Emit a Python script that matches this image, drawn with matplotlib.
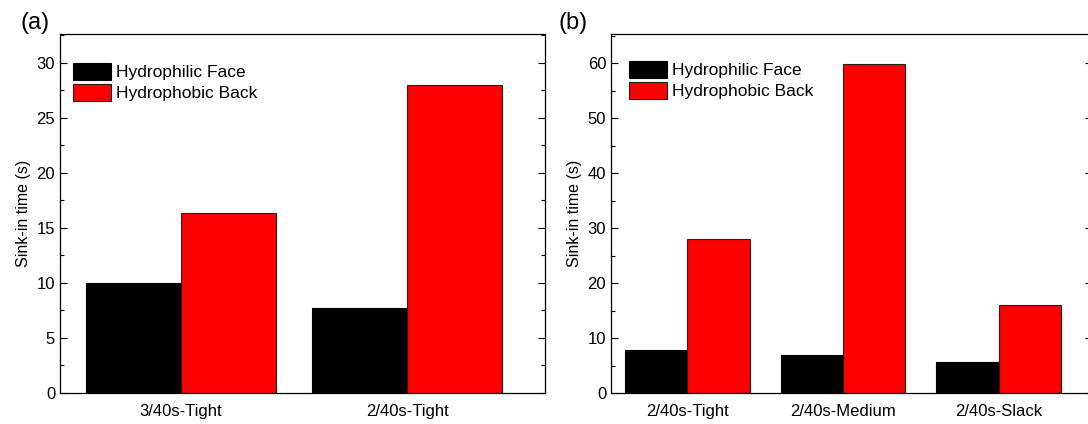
import matplotlib
matplotlib.use("Agg")
import matplotlib.pyplot as plt
from matplotlib.ticker import MultipleLocator
import numpy as np

plt.rcParams['font.family'] = ['Liberation Sans', 'DejaVu Sans']

# Panel (a)
cats_a = ["3/40s-Tight", "2/40s-Tight"]
face_a = [10.0, 7.7]
back_a = [16.3, 28.0]

# Panel (b)
cats_b = ["2/40s-Tight", "2/40s-Medium", "2/40s-Slack"]
face_b = [7.8, 7.0, 5.7]
back_b = [28.0, 59.8, 16.0]

series_labels = ["Hydrophilic Face", "Hydrophobic Back"]

W, H = 1088, 424
fig = plt.figure(figsize=(W / 100, H / 100), dpi=100)

def px_axes(l, r, t, b):
    return fig.add_axes([l / W, 1 - b / H, (r - l) / W, (b - t) / H])

def draw(ax, cats, face, back, width, xlim, ylim, major, minor, leg_anchor):
    x = np.arange(len(cats))
    ax.bar(x - width / 2, face, width, color="black", edgecolor="black",
           linewidth=0.8, label=series_labels[0])
    ax.bar(x + width / 2, back, width, color="#ff0000", edgecolor="#202020",
           linewidth=0.8, label=series_labels[1])
    ax.set_xlim(*xlim)
    ax.set_ylim(*ylim)
    ax.set_xticks(x)
    ax.set_xticklabels(cats, fontsize=12)
    ax.tick_params(axis='x', length=0, pad=8)
    ax.yaxis.set_major_locator(MultipleLocator(major))
    ax.yaxis.set_minor_locator(MultipleLocator(minor))
    ax.tick_params(axis='y', which='both', direction='in', right=True,
                   labelsize=12)
    ax.tick_params(axis='y', which='major', length=5, width=0.8)
    ax.tick_params(axis='y', which='minor', length=3, width=0.8)
    for s in ax.spines.values():
        s.set_linewidth(0.9)
    ax.set_ylabel("Sink-in time (s)", fontsize=11.5, labelpad=4)
    ax.legend(loc='upper left', bbox_to_anchor=leg_anchor, frameon=False,
              fontsize=12.5, handlelength=2.2, handleheight=1.15,
              handletextpad=0.3, labelspacing=0.2, borderpad=0,
              borderaxespad=0)

ax1 = px_axes(60, 545, 34, 393)
draw(ax1, cats_a, face_a, back_a, 0.42, (-0.535, 1.61), (0, 32.6), 5, 2.5,
     (0.027, 0.92))

ax2 = px_axes(611, 1092, 34, 393)
draw(ax2, cats_b, face_b, back_b, 0.40, (-0.49, 2.6), (0, 65.3), 10, 5,
     (0.037, 0.925))

fig.text(21 / W, 1 - 23 / H, "(a)", fontsize=17, va='center', ha='left')
fig.text(558 / W, 1 - 23 / H, "(b)", fontsize=17, va='center', ha='left')

fig.savefig("out.png", dpi=100)
